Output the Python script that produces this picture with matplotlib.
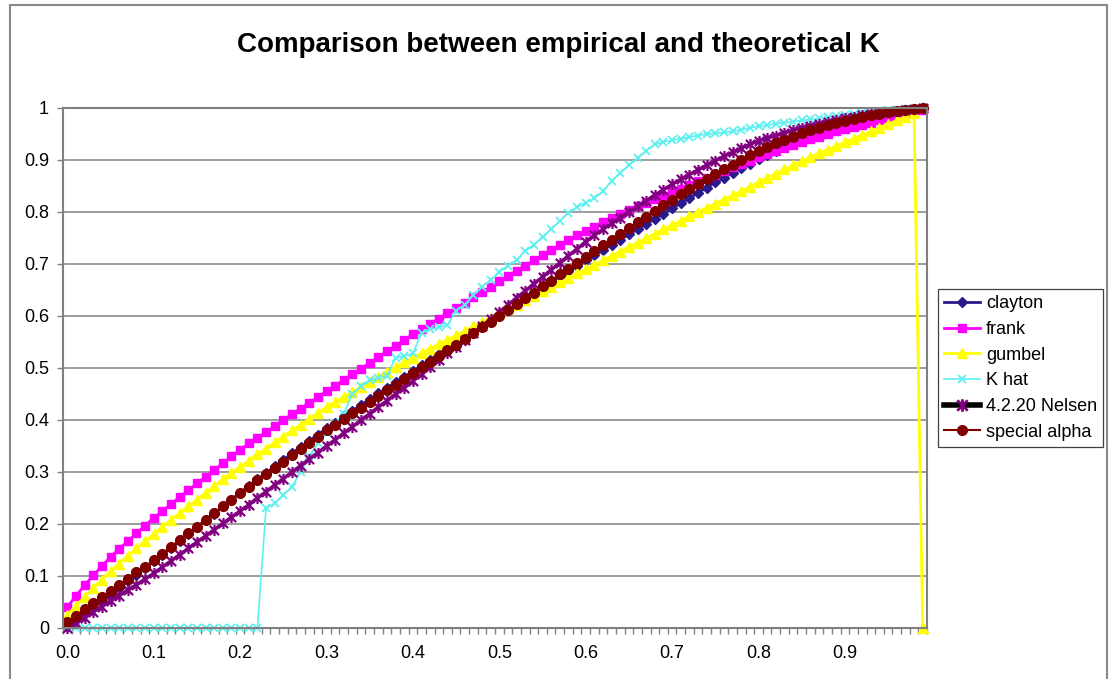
import numpy as np
import matplotlib
matplotlib.use("Agg")
import matplotlib.pyplot as plt
from matplotlib.lines import Line2D
from matplotlib.path import Path
from matplotlib.patches import Rectangle

plt.rcParams['font.family'] = ['Liberation Sans', 'DejaVu Sans']

# category axis: 100 points, labelled every 10th
t_grid = [round(i * 0.01, 2) for i in range(100)]

clayton = [
    .003, .015, .028, .040, .052, .065, .077, .090, .102, .115,
    .128, .141, .154, .167, .181, .194, .207, .220, .234, .247,
    .260, .273, .286, .298, .311, .323, .336, .348, .360, .372,
    .384, .395, .407, .418, .429, .440, .451, .462, .473, .483,
    .494, .505, .516, .527, .538, .549, .559, .569, .579, .590,
    .600, .611, .622, .633, .644, .655, .665, .676, .686, .697,
    .707, .717, .727, .737, .747, .757, .767, .777, .787, .797,
    .807, .817, .827, .837, .847, .857, .866, .875, .884, .893,
    .902, .910, .918, .926, .933, .940, .946, .952, .957, .962,
    .967, .971, .975, .979, .983, .987, .990, .993, .996, 1.000]

frank = [
    .040, .062, .082, .101, .119, .137, .152, .167, .182, .197,
    .212, .225, .238, .252, .265, .278, .291, .304, .317, .330,
    .343, .355, .366, .377, .388, .400, .411, .422, .433, .444,
    .455, .466, .477, .488, .499, .510, .521, .532, .543, .554,
    .565, .575, .585, .595, .605, .615, .625, .636, .646, .656,
    .667, .677, .687, .697, .707, .717, .727, .737, .746, .755,
    .764, .772, .780, .788, .796, .804, .811, .818, .825, .831,
    .838, .845, .852, .859, .865, .872, .879, .886, .892, .899,
    .905, .911, .917, .923, .929, .935, .940, .945, .950, .955,
    .960, .964, .968, .972, .976, .980, .984, .988, .992, .996]

gumbel = [
    .025, .043, .060, .077, .093, .109, .124, .139, .153, .167,
    .181, .195, .208, .221, .234, .247, .260, .273, .286, .298,
    .310, .322, .334, .345, .357, .368, .380, .391, .402, .414,
    .425, .435, .445, .454, .464, .473, .483, .492, .502, .511,
    .520, .529, .537, .546, .554, .563, .571, .580, .588, .597,
    .605, .614, .622, .631, .639, .648, .656, .665, .673, .682,
    .690, .699, .707, .716, .724, .733, .741, .750, .758, .767,
    .775, .783, .792, .800, .808, .816, .824, .832, .840, .848,
    .858, .866, .874, .882, .890, .898, .906, .913, .920, .927,
    .934, .941, .948, .955, .962, .969, .976, .983, .990, 0.0]

k_hat = [
    0, 0, 0, 0, 0, 0, 0, 0, 0, 0,
    0, 0, 0, 0, 0, 0, 0, 0, 0, 0,
    0, 0, 0, .230, .240, .255, .272, .300, .330, .355,
    .375, .395, .412, .450, .465, .477, .480, .485, .520, .523,
    .528, .567, .575, .578, .583, .610, .622, .640, .656, .670,
    .685, .697, .708, .725, .737, .752, .767, .783, .798, .810,
    .818, .826, .840, .860, .875, .890, .904, .918, .930, .935,
    .938, .941, .944, .947, .950, .951, .953, .955, .958, .962,
    .965, .967, .970, .972, .974, .976, .978, .980, .983, .985,
    .987, .989, .991, .993, .995, .996, .997, .998, .999, 1.000]

nelsen = [
    .000, .010, .020, .031, .041, .052, .062, .073, .083, .094,
    .105, .117, .129, .141, .153, .165, .177, .189, .201, .213,
    .225, .237, .250, .262, .275, .287, .300, .312, .325, .337,
    .350, .362, .375, .387, .400, .412, .425, .437, .450, .462,
    .475, .488, .501, .515, .528, .541, .554, .568, .581, .594,
    .608, .621, .635, .648, .662, .675, .689, .702, .716, .729,
    .743, .755, .767, .778, .789, .800, .811, .822, .832, .843,
    .853, .863, .872, .881, .890, .899, .907, .915, .923, .930,
    .937, .942, .947, .952, .957, .962, .966, .970, .974, .977,
    .980, .983, .986, .989, .991, .993, .995, .997, .999, 1.000]

special_alpha = [
    .012, .024, .036, .048, .060, .071, .083, .095, .107, .118,
    .130, .143, .156, .169, .182, .195, .208, .221, .234, .247,
    .260, .272, .284, .296, .308, .320, .332, .344, .356, .368,
    .380, .391, .402, .413, .424, .435, .446, .457, .468, .479,
    .490, .501, .512, .523, .534, .545, .556, .567, .578, .589,
    .600, .612, .623, .634, .645, .657, .668, .680, .691, .702,
    .714, .725, .736, .747, .758, .769, .780, .791, .802, .813,
    .824, .834, .844, .854, .863, .873, .882, .891, .900, .909,
    .917, .925, .932, .939, .945, .951, .957, .962, .967, .971,
    .975, .979, .983, .986, .989, .992, .994, .996, .998, 1.000]

y_ticks = [0, 0.1, 0.2, 0.3, 0.4, 0.5, 0.6, 0.7, 0.8, 0.9, 1]
y_labels = ["0", "0.1", "0.2", "0.3", "0.4", "0.5", "0.6", "0.7", "0.8", "0.9", "1"]

# excel style "star" marker: X with a vertical bar
star = Path([(-1, -1), (1, 1), (-1, 1), (1, -1), (0, -1.2), (0, 1.2)],
            [Path.MOVETO, Path.LINETO, Path.MOVETO, Path.LINETO, Path.MOVETO, Path.LINETO])

W, H = 1116, 679
fig = plt.figure(figsize=(W / 100, H / 100), dpi=100)
fig.patch.set_facecolor('white')
fig.patches.append(Rectangle((10 / W, -0.02), 1097 / W, 1 - 5 / H + 0.02,
                             transform=fig.transFigure, fill=False,
                             edgecolor='#8a8a8a', lw=1.5))

ax = fig.add_axes([63 / W, 1 - 628 / H, 864 / W, 520 / H])
x = np.arange(len(t_grid))

series = [
    ("clayton", clayton, dict(color='#2a1a8c', lw=2, marker='D', ms=5)),
    ("frank", frank, dict(color='#ff00ff', lw=2, marker='s', ms=6)),
    ("gumbel", gumbel, dict(color='#ffff00', lw=2, marker='^', ms=7)),
    ("K hat", k_hat, dict(color='#5ef0f0', lw=1.2, marker='x', ms=6, mew=1.3)),
    ("4.2.20 Nelsen", nelsen, dict(color='#800080', lw=2.5, marker=star, ms=8, mew=1.6)),
    ("special alpha", special_alpha, dict(color='#800000', lw=1.5, marker='o', ms=7)),
]

handles = []
for name, vals, st in series:
    ax.plot(x, vals, mfc=st['color'], mec=st['color'], clip_on=False, **st)
    if name == "4.2.20 Nelsen":
        h = Line2D([], [], color='black', lw=4, marker=star, ms=9, mew=2,
                   mfc='#800080', mec='#800080')
    else:
        h = Line2D([], [], mfc=st['color'], mec=st['color'], **st)
    handles.append(h)

ax.set_xlim(-0.5, len(t_grid) - 0.5)
ax.set_ylim(0, 1)

# boundary ticks between categories, labels every 10th category
ax.set_xticks(np.arange(-0.5, len(t_grid), 1))
ax.set_xticklabels([])
ax.tick_params(axis='x', which='major', length=4, width=1, color='#808080', direction='out')
lab_pos = x[::10]
ax.set_xticks(lab_pos, minor=True)
ax.set_xticklabels([f"{t_grid[i]:.1f}" for i in lab_pos], minor=True)
ax.tick_params(axis='x', which='minor', length=0, pad=12, labelsize=13)

ax.set_yticks(y_ticks)
ax.set_yticklabels(y_labels)
ax.tick_params(axis='y', length=4, width=1, color='#808080', direction='out', pad=6, labelsize=13)

ax.grid(axis='y', color='#8c8c8c', lw=1.2)
ax.set_axisbelow(True)
for s in ax.spines.values():
    s.set_color('#808080')
    s.set_linewidth(1.5)

fig.text(558 / W, 1 - 45 / H, "Comparison between empirical and theoretical K",
         ha='center', va='center', fontsize=20, fontweight='bold')

leg = fig.legend(handles, [s[0] for s in series], loc='upper left',
                 bbox_to_anchor=(938 / W, 1 - 289 / H), bbox_transform=fig.transFigure,
                 fontsize=13, frameon=True, fancybox=False, framealpha=1,
                 edgecolor='#404040', borderpad=0.35, labelspacing=0.48,
                 handlelength=2.0, handletextpad=0.3, borderaxespad=0)
leg.get_frame().set_linewidth(0.9)

fig.savefig("out.png", dpi=100, facecolor='white')
